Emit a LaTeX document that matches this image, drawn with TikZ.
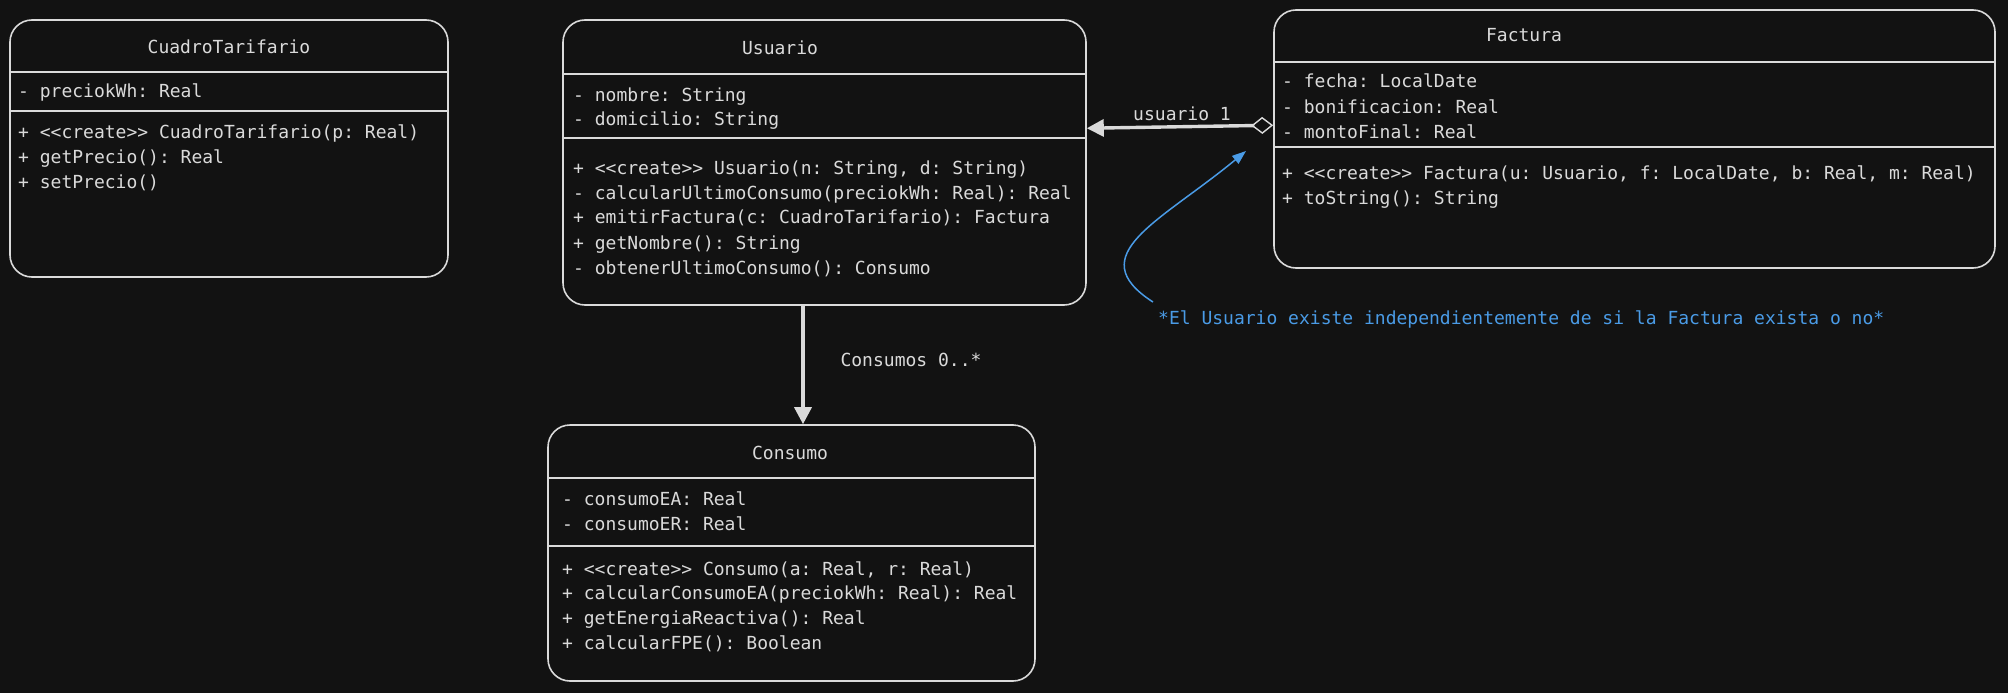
\documentclass[tikz,border=0pt]{standalone}
\usepackage{fontspec}
\setmonofont{DejaVu Sans Mono}
\usetikzlibrary{arrows.meta}
\definecolor{bgdark}{HTML}{121212}
\definecolor{ink}{HTML}{DADADA}
\definecolor{notebl}{HTML}{4A9BE6}
\tikzset{
  umltext/.style={text=ink, inner sep=0pt, font=\ttfamily\fontsize{18}{22}\selectfont},
  classbox/.style={draw=ink, line width=1.6pt, rounded corners=22pt, inner sep=0pt},
  classtitle/.style={umltext, anchor=base},
  member/.style={umltext, anchor=base west},
  sepline/.style={draw=ink, line width=1.6pt},
  assoc/.style={draw=ink, line width=3.4pt, -{Triangle[length=17pt,width=17pt]}},
}
\begin{document}
\begin{tikzpicture}[x=1pt, y=-1pt]
  \fill[bgdark] (0,0) rectangle (2008,693);
  % classes
  \node[classbox, minimum width=438pt, minimum height=257pt] (cuadro) at (229,148.5) {};
  \node[classbox, minimum width=523pt, minimum height=285pt] (usuario) at (824.5,162.5) {};
  \node[classbox, minimum width=721pt, minimum height=258pt] (factura) at (1634.5,139) {};
  \node[classbox, minimum width=487pt, minimum height=256pt] (consumo) at (791.5,553) {};
  \node[classtitle] (cuadroT) at (229,54) {CuadroTarifario};
  \node[classtitle] (usuarioT) at (780,55) {Usuario};
  \node[classtitle] (facturaT) at (1524,42) {Factura};
  \node[classtitle] (consumoT) at (790,459) {Consumo};
  \foreach \b/\y in {cuadro/72, cuadro/111, usuario/74, usuario/138, factura/62, factura/147, consumo/478, consumo/546}{
    \draw[sepline] (\b.west |- 0,\y) -- (\b.east |- 0,\y);
  }
  % members
  \foreach \y/\t [count=\i] in {97/{- preciokWh: Real}, 138/{+ <<create>> CuadroTarifario(p: Real)},
      163/{+ getPrecio(): Real}, 188/{+ setPrecio()}}{
    \node[member] (cuadro\i) at (18,\y) {\t};
  }
  \foreach \y/\t [count=\i] in {101/{- nombre: String}, 125/{- domicilio: String},
      174/{+ <<create>> Usuario(n: String, d: String)}, 199/{- calcularUltimoConsumo(preciokWh: Real): Real},
      223/{+ emitirFactura(c: CuadroTarifario): Factura}, 249/{+ getNombre(): String},
      274/{- obtenerUltimoConsumo(): Consumo}}{
    \node[member] (usuario\i) at (573,\y) {\t};
  }
  \foreach \y/\t [count=\i] in {88/{- fecha: LocalDate}, 113/{- bonificacion: Real}, 138/{- montoFinal: Real},
      179/{+ <<create>> Factura(u: Usuario, f: LocalDate, b: Real, m: Real)}, 204/{+ toString(): String}}{
    \node[member] (factura\i) at (1282,\y) {\t};
  }
  \foreach \y/\t [count=\i] in {505/{- consumoEA: Real}, 530/{- consumoER: Real},
      575/{+ <<create>> Consumo(a: Real, r: Real)}, 599/{+ calcularConsumoEA(preciokWh: Real): Real},
      624/{+ getEnergiaReactiva(): Real}, 649/{+ calcularFPE(): Boolean}}{
    \node[member] (consumo\i) at (562,\y) {\t};
  }
  % relations
  \draw[assoc, {Diamond[open, line width=1.4pt, length=22pt, width=17pt]}-{Triangle[length=17pt,width=17pt]}]
    ([yshift=6pt]factura.west |- factura3) -- ([yshift=3pt]usuario.east |- factura3);
  \node[umltext] (usuarioLbl) at (1182,114) {usuario 1};
  \draw[assoc] ([xshift=-21.5pt]usuario.south) -- ([xshift=-21.5pt]usuario.south |- consumo.north);
  \node[umltext] (consumoLbl) at (911,360) {Consumos 0..*};
  % note
  \node[umltext, text=notebl, anchor=base west] (note) at (1158,324)
    {*El Usuario existe independientemente de si la Factura exista o no*};
  \coordinate (noteTip) at (1246,151);
  \draw[notebl, line width=1.5pt, -{Triangle[length=14pt,width=10pt]}]
    ([xshift=-5pt,yshift=8pt]note.north west) .. controls (1080,255) and (1160,222) .. (noteTip);
\end{tikzpicture}
\end{document}
